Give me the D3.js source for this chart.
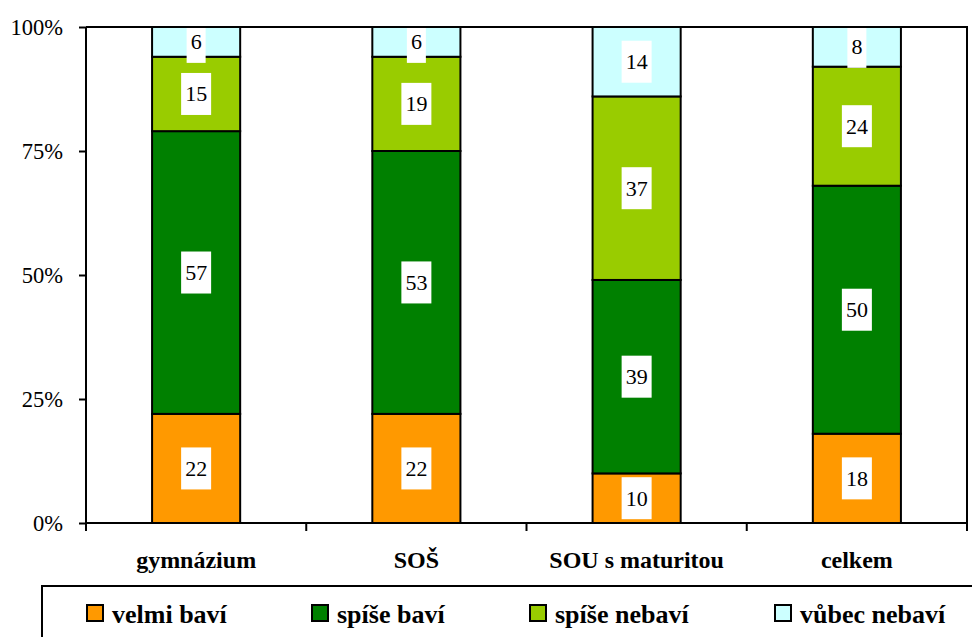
<!DOCTYPE html>
<html>
<head>
<meta charset="utf-8">
<script src="https://cdn.jsdelivr.net/npm/d3@7"></script>
<style>
  html, body { margin: 0; padding: 0; background: #fff; }
  svg { display: block; }
</style>
</head>
<body>
<svg id="chart" width="972" height="637"></svg>
<script>
// School types along the x axis
const categories = ["gymnázium", "SOŠ", "SOU s maturitou", "celkem"];
// Answer groups (stack order, bottom to top)
const seriesNames = ["velmi baví", "spíše baví", "spíše nebaví", "vůbec nebaví"];
const seriesColors = ["#FF9900", "#008000", "#99CC00", "#CCFFFF"];
// Percentages per answer group, one value per school type
const velmiBavi   = [22, 22, 10, 18];
const spiseBavi   = [57, 53, 39, 50];
const spiseNebavi = [15, 19, 37, 24];
const vubecNebavi = [6, 6, 14, 8];
const yTicks = [0, 25, 50, 75, 100];

const FONT = "'Liberation Serif', 'Noto Serif', 'Nimbus Roman', 'Nimbus Roman No9 L', FreeSerif, 'Times New Roman', Times, 'DejaVu Serif', serif";

const seriesValues = [velmiBavi, spiseBavi, spiseNebavi, vubecNebavi];
const rows = categories.map((c, i) => {
  const r = { category: c };
  seriesNames.forEach((s, k) => { r[s] = seriesValues[k][i]; });
  return r;
});

const svg = d3.select("#chart").style("font-family", FONT);
const plot = { left: 86, top: 27, right: 967, bottom: 523 };

const x = d3.scaleBand()
  .domain(categories)
  .range([plot.left, plot.right])
  .paddingInner(0.6)
  .paddingOuter(0.3);
const y = d3.scaleLinear().domain([0, 100]).range([plot.bottom, plot.top]);
const color = d3.scaleOrdinal().domain(seriesNames).range(seriesColors);

const stacked = d3.stack().keys(seriesNames)(rows);

svg.append("defs").append("clipPath").attr("id", "plotClip")
  .append("rect")
  .attr("x", plot.left).attr("y", plot.top)
  .attr("width", plot.right - plot.left).attr("height", plot.bottom - plot.top);

// Stacked bar segments
const layers = svg.append("g").selectAll("g")
  .data(stacked).join("g")
  .attr("fill", d => color(d.key));
layers.selectAll("rect")
  .data(d => d).join("rect")
  .attr("x", d => x(d.data.category))
  .attr("y", d => y(d[1]))
  .attr("width", x.bandwidth())
  .attr("height", d => y(d[0]) - y(d[1]))
  .attr("stroke", "#000")
  .attr("stroke-width", 2);

// Value labels on white boxes
const labels = svg.append("g").attr("clip-path", "url(#plotClip)");
stacked.forEach(layer => {
  layer.forEach(d => {
    const cx = x(d.data.category) + x.bandwidth() / 2;
    const cy = (y(d[0]) + y(d[1])) / 2;
    const g = labels.append("g");
    const box = g.append("rect").attr("fill", "#fff");
    const t = g.append("text")
      .attr("x", cx).attr("y", cy).attr("dy", "0.34em")
      .attr("text-anchor", "middle")
      .style("font-family", FONT)
      .style("font-size", "22px")
      .text(d.data[layer.key]);
    const w = t.node().getComputedTextLength() + 8;
    const h = 42;
    box.attr("x", cx - w / 2).attr("y", cy - h / 2).attr("width", w).attr("height", h);
  });
});

// Plot frame: top and right edges
svg.append("path")
  .attr("d", `M${plot.left},${plot.top}H${plot.right}V${plot.bottom + 8}`)
  .attr("fill", "none").attr("stroke", "#000").attr("stroke-width", 2);

// Y axis
const yAxis = svg.append("g")
  .attr("transform", `translate(${plot.left},0)`)
  .call(d3.axisLeft(y).tickValues(yTicks).tickFormat(d => d + "%").tickSize(7).tickPadding(16));
yAxis.attr("font-family", null);
yAxis.select(".domain").attr("stroke-width", 2).attr("d", `M0,${plot.top}V${plot.bottom + 8}`);
yAxis.selectAll(".tick line").attr("stroke-width", 2);
yAxis.selectAll(".tick text")
  .style("font-family", FONT)
  .style("font-size", "22.5px")
  .attr("fill", "#000")
  .attr("dy", "0.34em");

// X axis with ticks between categories
const step = x.step();
const boundaries = d3.range(categories.length + 1).map(i => plot.left + i * step);
const xAxis = svg.append("g");
xAxis.append("line")
  .attr("x1", plot.left).attr("x2", plot.right)
  .attr("y1", plot.bottom).attr("y2", plot.bottom)
  .attr("stroke", "#000").attr("stroke-width", 2);
xAxis.selectAll("line.tick").data(boundaries).join("line")
  .attr("class", "tick")
  .attr("x1", d => d).attr("x2", d => d)
  .attr("y1", plot.bottom).attr("y2", plot.bottom + 8)
  .attr("stroke", "#000").attr("stroke-width", 2);
xAxis.selectAll("text").data(categories).join("text")
  .attr("x", d => x(d) + x.bandwidth() / 2)
  .attr("y", 568)
  .attr("text-anchor", "middle")
  .style("font-family", FONT)
  .style("font-size", "24px")
  .style("font-weight", "bold")
  .text(d => d);

// Legend
const legend = svg.append("g");
legend.append("rect")
  .attr("x", 42).attr("y", 586).attr("width", 1000).attr("height", 120)
  .attr("fill", "#fff").attr("stroke", "#000").attr("stroke-width", 2);
const legendX = [87, 312, 530, 775];
const items = legend.selectAll("g.item").data(seriesNames).join("g")
  .attr("class", "item")
  .attr("transform", (d, i) => `translate(${legendX[i]},605)`);
items.append("rect")
  .attr("x", 0).attr("y", 0).attr("width", 16).attr("height", 16)
  .attr("fill", d => color(d)).attr("stroke", "#000").attr("stroke-width", 2);
items.append("text")
  .attr("x", 25).attr("y", 18)
  .style("font-family", FONT)
  .style("font-size", "26px")
  .style("font-weight", "bold")
  .text(d => d);
</script>
</body>
</html>
